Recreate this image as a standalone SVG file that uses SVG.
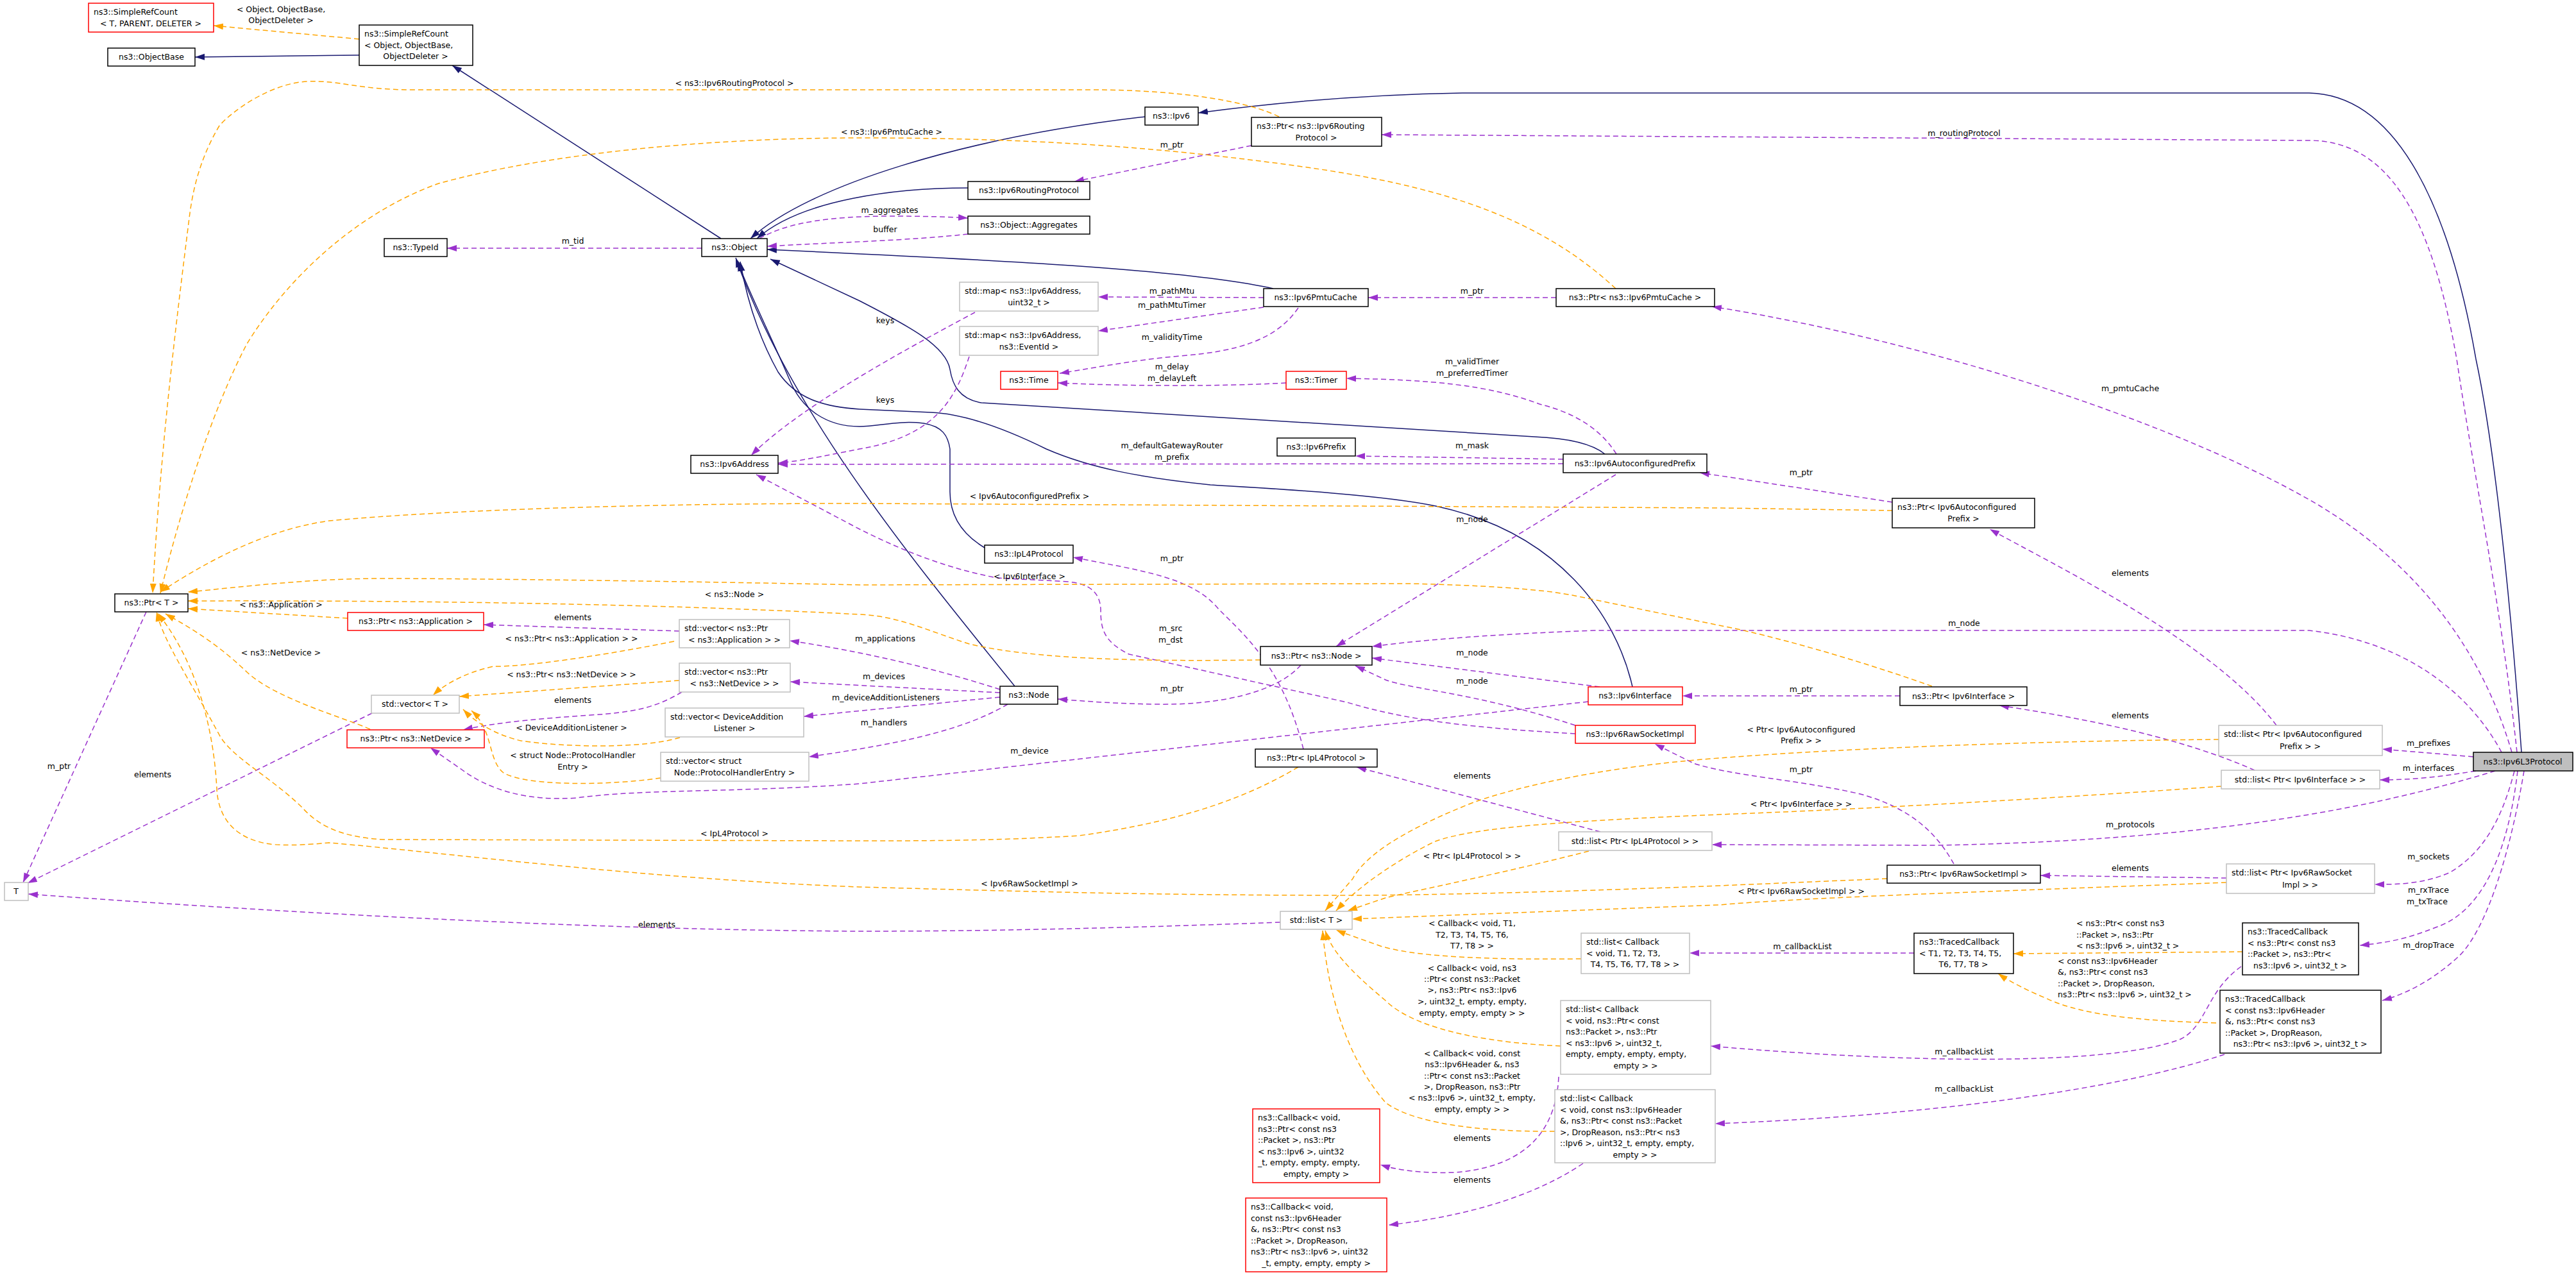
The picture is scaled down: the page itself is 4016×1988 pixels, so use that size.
<svg xmlns="http://www.w3.org/2000/svg" width="4016" height="1988" viewBox="0 0 4016 1988">
<style>
text{font-family:"DejaVu Sans","Liberation Sans",sans-serif;font-size:12.5px;fill:#000}
.m{text-anchor:middle}
.n rect{fill:#fff;stroke:#000;stroke-width:1.5}
.n.r rect{stroke:#ff0000}
.n.g rect{stroke:#bfbfbf}
.n.c rect{fill:#bfbfbf;stroke:#000}
.e path{fill:none;stroke-width:1.5}
.e .i{stroke:#191970;marker-end:url(#ai)}
.e .u{stroke:#9a32cd;stroke-dasharray:8,5;marker-end:url(#au)}
.e .t{stroke:#ffa500;stroke-dasharray:8,5;marker-end:url(#at)}
</style>
<defs>
<marker id="ai" markerUnits="userSpaceOnUse" markerWidth="16" markerHeight="12" refX="15" refY="5" orient="auto"><path d="M0,0 L15,5 L0,10 z" fill="#191970"/></marker>
<marker id="au" markerUnits="userSpaceOnUse" markerWidth="16" markerHeight="12" refX="15" refY="5" orient="auto"><path d="M0,0 L15,5 L0,10 z" fill="#9a32cd"/></marker>
<marker id="at" markerUnits="userSpaceOnUse" markerWidth="16" markerHeight="12" refX="15" refY="5" orient="auto"><path d="M0,0 L15,5 L0,10 z" fill="#ffa500"/></marker>
</defs>
<rect width="4016" height="1988" fill="#fff"/>
<g id="edges" class="e">
<path class="i" d="M560,86 L304,89"/>
<path class="i" d="M1124,372 L705,102"/>
<path class="i" d="M1785,182 C1500,215 1260,290 1170,372"/>
<path class="i" d="M1509,293 C1400,293 1250,310 1180,372"/>
<path class="i" d="M1985,450 C1850,420 1550,405 1196,389"/>
<path class="i" d="M2502,708 C2480,690 2440,683 2392,681 L1530,628 C1495,622 1485,600 1481,576 C1475,540 1420,510 1340,469 L1201,404"/>
<path class="i" d="M2545,1071 C2520,960 2430,830 2238,789 C2150,770 1950,760 1887,756 C1780,745 1700,730 1631,700 C1560,665 1500,645 1451,643 L1340,638 C1280,634 1240,620 1213,580 C1185,530 1165,470 1154,408"/>
<path class="i" d="M1535,854 C1495,830 1481,800 1481,767 L1481,700 C1478,680 1470,665 1440,660 C1400,655 1370,665 1340,665 C1290,665 1250,640 1230,590 C1200,520 1165,450 1150,408"/>
<path class="i" d="M1582,1070 C1420,870 1230,640 1147,402"/>
<path class="i" d="M3931,1173 C3915,950 3890,700 3860,560 C3820,330 3740,148 3600,145 L2280,145 C2100,148 1950,165 1868,176"/>
<path class="u" d="M1094,387 L697,387"/>
<path class="u" d="M1184,372 C1230,345 1300,338 1380,337 C1440,337 1480,338 1509,340"/>
<path class="u" d="M1509,365 C1420,375 1300,378 1196,384"/>
<path class="u" d="M1951,227 L1675,283"/>
<path class="u" d="M3924,1173 C3900,950 3860,760 3830,560 C3790,330 3720,219 3600,219 L2154,210"/>
<path class="u" d="M1970,464 L1712,463"/>
<path class="u" d="M1970,479 L1712,516"/>
<path class="u" d="M2024,480 C1990,530 1930,548 1840,555 C1760,562 1700,575 1652,582"/>
<path class="u" d="M2005,597 C1900,603 1750,602 1649,597"/>
<path class="u" d="M2426,464 L2133,464"/>
<path class="u" d="M3916,1173 C3880,1050 3800,900 3617,789 C3400,660 3000,530 2669,478"/>
<path class="u" d="M2520,708 C2490,660 2440,640 2400,630 C2320,600 2230,592 2099,590"/>
<path class="u" d="M2437,716 L2113,711"/>
<path class="u" d="M2437,723 L1213,724"/>
<path class="u" d="M1520,487 C1440,530 1250,630 1171,710"/>
<path class="u" d="M1511,556 C1490,620 1460,680 1340,700 C1280,712 1240,720 1213,722"/>
<path class="u" d="M2950,783 L2650,737"/>
<path class="u" d="M2519,740 L2083,1008"/>
<path class="u" d="M2456,1144 C2300,1135 2195,1124 2100,1095 L1760,1020 C1720,1000 1716,980 1716,950 C1715,925 1700,910 1665,907 C1620,904 1580,903 1554,901 C1470,885 1400,855 1340,825 L1179,740"/>
<path class="u" d="M2032,1168 C2000,1040 1940,990 1900,950 C1860,900 1780,890 1673,869"/>
<path class="u" d="M2028,1037 C1990,1080 1900,1100 1800,1098 C1740,1097 1700,1094 1649,1090"/>
<path class="u" d="M3900,1173 C3850,1080 3750,1000 3600,983 L2485,983 C2300,990 2200,1000 2139,1008"/>
<path class="u" d="M2494,1071 L2139,1026"/>
<path class="u" d="M2456,1131 C2300,1080 2200,1075 2160,1060 L2113,1038"/>
<path class="u" d="M2962,1085 L2623,1085"/>
<path class="u" d="M2476,1094 L1340,1222 C1150,1236 1000,1230 900,1244 C820,1250 760,1230 720,1200 L671,1166"/>
<path class="u" d="M1559,1075 C1450,1040 1340,1015 1231,999"/>
<path class="u" d="M1559,1080 L1232,1063"/>
<path class="u" d="M1559,1087 L1253,1117"/>
<path class="u" d="M1571,1098 C1500,1140 1400,1160 1261,1180"/>
<path class="u" d="M1059,984 L754,974"/>
<path class="u" d="M1063,1079 C1020,1105 983,1111 920,1115 C850,1120 780,1125 722,1138"/>
<path class="u" d="M580,1112 L43,1377"/>
<path class="u" d="M228,954 L36,1376"/>
<path class="u" d="M2495,1297 L2115,1196"/>
<path class="u" d="M3890,1202 C3700,1260 3450,1310 3021,1318 L2669,1317"/>
<path class="u" d="M3549,1131 C3450,1000 3200,880 3102,825"/>
<path class="u" d="M3515,1201 C3400,1150 3250,1120 3117,1100"/>
<path class="u" d="M3471,1369 L3181,1365"/>
<path class="u" d="M3046,1347 C3020,1300 2980,1260 2900,1238 C2800,1215 2700,1210 2640,1190 L2580,1160"/>
<path class="u" d="M3856,1180 L3714,1168"/>
<path class="u" d="M3860,1202 C3800,1212 3760,1216 3710,1216"/>
<path class="u" d="M3920,1202 C3900,1280 3870,1330 3820,1360 C3780,1378 3740,1379 3702,1379"/>
<path class="u" d="M3925,1202 C3910,1330 3870,1420 3800,1445 C3750,1465 3720,1470 3679,1474"/>
<path class="u" d="M3935,1202 C3910,1350 3870,1460 3830,1494 C3790,1530 3750,1550 3714,1560"/>
<path class="u" d="M2984,1486 L2634,1486"/>
<path class="u" d="M3494,1507 C3440,1545 3440,1600 3400,1620 C3300,1660 3000,1660 2667,1631"/>
<path class="u" d="M3468,1644 C3300,1700 3000,1740 2674,1752"/>
<path class="u" d="M2430,1679 C2425,1780 2360,1820 2270,1828 C2220,1830 2180,1825 2152,1816"/>
<path class="u" d="M2468,1814 C2400,1860 2300,1895 2165,1910"/>
<path class="u" d="M1996,1438 C1700,1449 1500,1452 1340,1452 C900,1450 400,1420 44,1394"/>
<path class="t" d="M560,61 L333,40"/>
<path class="t" d="M1994,182 C1950,160 1850,140 1700,140 L641,140 C560,140 530,125 479,127 C420,130 360,175 342,196 C310,250 300,300 295,340 C275,500 250,700 238,925"/>
<path class="t" d="M2519,450 C2400,340 2250,290 2024,259 C1800,228 1600,215 1340,215 C1100,215 850,240 684,286 C560,330 450,430 385,536 C330,640 280,800 250,925"/>
<path class="t" d="M2950,796 L2680,792 L1340,785 C1000,785 700,795 513,812 C420,825 330,870 250,923"/>
<path class="t" d="M1965,1029 C1800,1031 1620,1030 1511,1004 C1450,985 1400,960 1340,958 C1000,940 600,936 293,937"/>
<path class="t" d="M3012,1070 C2900,1030 2760,990 2680,975 L2451,928 C2400,918 2300,912 2195,910 L1340,912 C1000,905 700,902 598,902 C480,902 380,915 293,923"/>
<path class="t" d="M542,964 L293,949"/>
<path class="t" d="M577,1137 C540,1120 430,1090 385,1048 C330,995 280,970 258,957"/>
<path class="t" d="M2024,1196 C1950,1240 1850,1280 1682,1303 C1550,1311 1450,1311 1340,1311 L598,1309 C520,1305 490,1280 470,1258 C420,1210 360,1180 342,1146 C290,1050 255,1000 244,954"/>
<path class="t" d="M2942,1370 L2680,1381 C2400,1392 2200,1396 2109,1396 C1800,1396 1600,1390 1340,1383 C1000,1370 700,1330 513,1314 C450,1320 420,1318 402,1312 C360,1300 340,1270 338,1230 C335,1170 320,1050 246,956"/>
<path class="t" d="M1051,1000 C900,1030 800,1040 769,1039 C720,1050 690,1070 675,1084"/>
<path class="t" d="M1059,1061 L716,1086"/>
<path class="t" d="M1060,1150 C1000,1168 880,1165 812,1155 C770,1145 740,1125 722,1106"/>
<path class="t" d="M1030,1213 C950,1225 820,1226 785,1205 C760,1185 770,1140 735,1108"/>
<path class="t" d="M2477,1327 C2350,1360 2200,1390 2160,1400 L2101,1420"/>
<path class="t" d="M3459,1153 C3200,1155 2900,1165 2680,1182 C2500,1195 2366,1227 2300,1250 C2200,1289 2130,1330 2109,1370 L2066,1420"/>
<path class="t" d="M3463,1226 C3200,1245 2900,1262 2680,1270 C2450,1280 2300,1289 2237,1312 C2180,1340 2120,1380 2083,1420"/>
<path class="t" d="M3471,1376 C3100,1390 2800,1400 2680,1411 L2108,1433"/>
<path class="t" d="M2465,1495 C2300,1497 2200,1490 2152,1475 C2110,1460 2095,1455 2083,1450"/>
<path class="t" d="M2433,1631 C2300,1625 2200,1600 2160,1560 C2100,1510 2075,1480 2066,1451"/>
<path class="t" d="M2424,1764 C2300,1765 2200,1750 2160,1719 C2100,1650 2070,1550 2062,1451"/>
<path class="t" d="M3496,1484 L3139,1487"/>
<path class="t" d="M3455,1595 C3350,1592 3250,1585 3191,1557 C3150,1540 3125,1525 3115,1518"/>
</g>
<g id="edge-labels" class="m">
<text x="438" y="19">&lt; Object, ObjectBase,</text><text x="438" y="36">ObjectDeleter &gt;</text>
<text x="1145" y="134">&lt; ns3::Ipv6RoutingProtocol &gt;</text>
<text x="1390" y="210">&lt; ns3::Ipv6PmtuCache &gt;</text>
<text x="893" y="380">m_tid</text>
<text x="1827" y="230">m_ptr</text>
<text x="1387" y="332">m_aggregates</text>
<text x="1380" y="362">buffer</text>
<text x="3062" y="212">m_routingProtocol</text>
<text x="1827" y="458">m_pathMtu</text>
<text x="2295" y="458">m_ptr</text>
<text x="1827" y="480">m_pathMtuTimer</text>
<text x="1380" y="504">keys</text>
<text x="1827" y="530">m_validityTime</text>
<text x="2295" y="568">m_validTimer</text><text x="2295" y="586">m_preferredTimer</text>
<text x="1827" y="576">m_delay</text><text x="1827" y="594">m_delayLeft</text>
<text x="3321" y="610">m_pmtuCache</text>
<text x="1380" y="628">keys</text>
<text x="1827" y="699">m_defaultGatewayRouter</text><text x="1827" y="717">m_prefix</text>
<text x="2295" y="699">m_mask</text>
<text x="2808" y="741">m_ptr</text>
<text x="1605" y="778">&lt; Ipv6AutoconfiguredPrefix &gt;</text>
<text x="2295" y="814">m_node</text>
<text x="1827" y="875">m_ptr</text>
<text x="3321" y="898">elements</text>
<text x="1605" y="903">&lt; Ipv6Interface &gt;</text>
<text x="1145" y="931">&lt; ns3::Node &gt;</text>
<text x="438" y="947">&lt; ns3::Application &gt;</text>
<text x="893" y="967">elements</text>
<text x="3062" y="976">m_node</text>
<text x="1825" y="984">m_src</text><text x="1825" y="1002">m_dst</text>
<text x="1380" y="1000">m_applications</text>
<text x="891" y="1000">&lt; ns3::Ptr&lt; ns3::Application &gt; &gt;</text>
<text x="438" y="1022">&lt; ns3::NetDevice &gt;</text>
<text x="2295" y="1022">m_node</text>
<text x="891" y="1056">&lt; ns3::Ptr&lt; ns3::NetDevice &gt; &gt;</text>
<text x="1378" y="1059">m_devices</text>
<text x="2295" y="1066">m_node</text>
<text x="1827" y="1078">m_ptr</text>
<text x="2808" y="1079">m_ptr</text>
<text x="1381" y="1092">m_deviceAdditionListeners</text>
<text x="893" y="1096">elements</text>
<text x="3321" y="1120">elements</text>
<text x="1378" y="1131">m_handlers</text>
<text x="891" y="1139">&lt; DeviceAdditionListener &gt;</text>
<text x="2808" y="1142">&lt; Ptr&lt; Ipv6Autoconfigured</text><text x="2808" y="1159">Prefix &gt; &gt;</text>
<text x="3786" y="1163">m_prefixes</text>
<text x="1605" y="1175">m_device</text>
<text x="893" y="1182">&lt; struct Node::ProtocolHandler</text><text x="893" y="1200">Entry &gt;</text>
<text x="92" y="1199">m_ptr</text>
<text x="3786" y="1202">m_interfaces</text>
<text x="2808" y="1204">m_ptr</text>
<text x="238" y="1212">elements</text>
<text x="2295" y="1214">elements</text>
<text x="2808" y="1258">&lt; Ptr&lt; Ipv6Interface &gt; &gt;</text>
<text x="3321" y="1290">m_protocols</text>
<text x="1145" y="1304">&lt; IpL4Protocol &gt;</text>
<text x="2295" y="1339">&lt; Ptr&lt; IpL4Protocol &gt; &gt;</text>
<text x="3786" y="1340">m_sockets</text>
<text x="3321" y="1358">elements</text>
<text x="1605" y="1382">&lt; Ipv6RawSocketImpl &gt;</text>
<text x="2808" y="1394">&lt; Ptr&lt; Ipv6RawSocketImpl &gt; &gt;</text>
<text x="3786" y="1392">m_rxTrace</text><text x="3784" y="1410">m_txTrace</text>
<text x="1024" y="1446">elements</text>
<text x="2295" y="1444">&lt; Callback&lt; void, T1,</text><text x="2295" y="1462">T2, T3, T4, T5, T6,</text><text x="2295" y="1479">T7, T8 &gt; &gt;</text>
<text x="2810" y="1480">m_callbackList</text>
<text x="3786" y="1478">m_dropTrace</text>
<text x="2295" y="1514">&lt; Callback&lt; void, ns3</text><text x="2295" y="1531">::Ptr&lt; const ns3::Packet</text><text x="2295" y="1548">&gt;, ns3::Ptr&lt; ns3::Ipv6</text><text x="2295" y="1566">&gt;, uint32_t, empty, empty,</text><text x="2295" y="1584">empty, empty, empty &gt; &gt;</text>
<text x="2295" y="1647">&lt; Callback&lt; void, const</text><text x="2295" y="1664">ns3::Ipv6Header &amp;, ns3</text><text x="2295" y="1682">::Ptr&lt; const ns3::Packet</text><text x="2295" y="1699">&gt;, DropReason, ns3::Ptr</text><text x="2295" y="1716">&lt; ns3::Ipv6 &gt;, uint32_t, empty,</text><text x="2295" y="1734">empty, empty &gt; &gt;</text>
<text x="3062" y="1644">m_callbackList</text>
<text x="3062" y="1702">m_callbackList</text>
<text x="2295" y="1779">elements</text>
<text x="2295" y="1844">elements</text>
</g>
<g id="edge-labels-left">
<text x="3237" y="1444">&lt; ns3::Ptr&lt; const ns3</text><text x="3237" y="1462">::Packet &gt;, ns3::Ptr</text><text x="3237" y="1479">&lt; ns3::Ipv6 &gt;, uint32_t &gt;</text>
<text x="3208" y="1503">&lt; const ns3::Ipv6Header</text><text x="3208" y="1520">&amp;, ns3::Ptr&lt; const ns3</text><text x="3208" y="1538">::Packet &gt;, DropReason,</text><text x="3208" y="1555">ns3::Ptr&lt; ns3::Ipv6 &gt;, uint32_t &gt;</text>
</g>
<g id="n-srcT" class="n r"><rect x="138" y="5" width="195" height="45"/><text x="146" y="23">ns3::SimpleRefCount</text><text class="m" x="235" y="41">&lt; T, PARENT, DELETER &gt;</text></g>
<g id="n-objbase" class="n"><rect x="168" y="75" width="136" height="28"/><text class="m" x="236" y="93">ns3::ObjectBase</text></g>
<g id="n-srcO" class="n"><rect x="560" y="39" width="177" height="63"/><text x="568" y="57">ns3::SimpleRefCount</text><text x="568" y="75">&lt; Object, ObjectBase,</text><text class="m" x="648" y="92">ObjectDeleter &gt;</text></g>
<g id="n-typeid" class="n"><rect x="599" y="372" width="98" height="28"/><text class="m" x="648" y="390">ns3::TypeId</text></g>
<g id="n-object" class="n"><rect x="1094" y="372" width="102" height="28"/><text class="m" x="1145" y="390">ns3::Object</text></g>
<g id="n-ipv6" class="n"><rect x="1785" y="167" width="83" height="28"/><text class="m" x="1826" y="185">ns3::Ipv6</text></g>
<g id="n-ptrRP" class="n"><rect x="1951" y="183" width="203" height="45"/><text x="1959" y="201">ns3::Ptr&lt; ns3::Ipv6Routing</text><text class="m" x="2052" y="219">Protocol &gt;</text></g>
<g id="n-ipv6RP" class="n"><rect x="1509" y="283" width="190" height="28"/><text class="m" x="1604" y="301">ns3::Ipv6RoutingProtocol</text></g>
<g id="n-aggr" class="n"><rect x="1509" y="337" width="190" height="28"/><text class="m" x="1604" y="355">ns3::Object::Aggregates</text></g>
<g id="n-map1" class="n g"><rect x="1496" y="440" width="216" height="45"/><text x="1504" y="458">std::map&lt; ns3::Ipv6Address,</text><text class="m" x="1604" y="476">uint32_t &gt;</text></g>
<g id="n-map2" class="n g"><rect x="1496" y="509" width="216" height="45"/><text x="1504" y="527">std::map&lt; ns3::Ipv6Address,</text><text class="m" x="1604" y="545">ns3::EventId &gt;</text></g>
<g id="n-pmtu" class="n"><rect x="1970" y="450" width="163" height="28"/><text class="m" x="2051" y="468">ns3::Ipv6PmtuCache</text></g>
<g id="n-ptrPmtu" class="n"><rect x="2426" y="450" width="247" height="28"/><text class="m" x="2549" y="468">ns3::Ptr&lt; ns3::Ipv6PmtuCache &gt;</text></g>
<g id="n-time" class="n r"><rect x="1560" y="579" width="89" height="28"/><text class="m" x="1604" y="597">ns3::Time</text></g>
<g id="n-timer" class="n r"><rect x="2005" y="579" width="94" height="28"/><text class="m" x="2052" y="597">ns3::Timer</text></g>
<g id="n-prefix" class="n"><rect x="1991" y="683" width="122" height="28"/><text class="m" x="2052" y="701">ns3::Ipv6Prefix</text></g>
<g id="n-addr" class="n"><rect x="1077" y="710" width="136" height="28"/><text class="m" x="1145" y="728">ns3::Ipv6Address</text></g>
<g id="n-autoP" class="n"><rect x="2437" y="708" width="224" height="29"/><text class="m" x="2549" y="727">ns3::Ipv6AutoconfiguredPrefix</text></g>
<g id="n-ptrAutoP" class="n"><rect x="2950" y="777" width="222" height="46"/><text x="2958" y="795">ns3::Ptr&lt; Ipv6Autoconfigured</text><text class="m" x="3061" y="813">Prefix &gt;</text></g>
<g id="n-ipl4" class="n"><rect x="1535" y="850" width="138" height="28"/><text class="m" x="1604" y="868">ns3::IpL4Protocol</text></g>
<g id="n-ptrT" class="n"><rect x="179" y="926" width="114" height="28"/><text class="m" x="236" y="944">ns3::Ptr&lt; T &gt;</text></g>
<g id="n-ptrApp" class="n r"><rect x="542" y="955" width="212" height="28"/><text class="m" x="648" y="973">ns3::Ptr&lt; ns3::Application &gt;</text></g>
<g id="n-vecApp" class="n g"><rect x="1059" y="966" width="172" height="44"/><text x="1067" y="984">std::vector&lt; ns3::Ptr</text><text class="m" x="1145" y="1002">&lt; ns3::Application &gt; &gt;</text></g>
<g id="n-ptrNode" class="n"><rect x="1965" y="1008" width="174" height="29"/><text class="m" x="2052" y="1027">ns3::Ptr&lt; ns3::Node &gt;</text></g>
<g id="n-vecND" class="n g"><rect x="1059" y="1034" width="173" height="45"/><text x="1067" y="1052">std::vector&lt; ns3::Ptr</text><text class="m" x="1145" y="1070">&lt; ns3::NetDevice &gt; &gt;</text></g>
<g id="n-node" class="n"><rect x="1559" y="1070" width="90" height="28"/><text class="m" x="1604" y="1088">ns3::Node</text></g>
<g id="n-ipv6If" class="n r"><rect x="2476" y="1071" width="147" height="28"/><text class="m" x="2549" y="1089">ns3::Ipv6Interface</text></g>
<g id="n-ptrIf" class="n"><rect x="2962" y="1071" width="198" height="29"/><text class="m" x="3061" y="1090">ns3::Ptr&lt; Ipv6Interface &gt;</text></g>
<g id="n-vecT" class="n g"><rect x="579" y="1084" width="137" height="28"/><text class="m" x="647" y="1102">std::vector&lt; T &gt;</text></g>
<g id="n-vecDAL" class="n g"><rect x="1037" y="1104" width="216" height="45"/><text x="1045" y="1122">std::vector&lt; DeviceAddition</text><text class="m" x="1145" y="1140">Listener &gt;</text></g>
<g id="n-raw" class="n r"><rect x="2456" y="1131" width="187" height="28"/><text class="m" x="2549" y="1149">ns3::Ipv6RawSocketImpl</text></g>
<g id="n-listAP" class="n g"><rect x="3459" y="1131" width="255" height="47"/><text x="3467" y="1149">std::list&lt; Ptr&lt; Ipv6Autoconfigured</text><text class="m" x="3586" y="1168">Prefix &gt; &gt;</text></g>
<g id="n-ptrND" class="n r"><rect x="541" y="1138" width="214" height="28"/><text class="m" x="648" y="1156">ns3::Ptr&lt; ns3::NetDevice &gt;</text></g>
<g id="n-ptrIpl4" class="n"><rect x="1957" y="1168" width="190" height="28"/><text class="m" x="2052" y="1186">ns3::Ptr&lt; IpL4Protocol &gt;</text></g>
<g id="n-vecPHE" class="n g"><rect x="1030" y="1173" width="231" height="45"/><text x="1038" y="1191">std::vector&lt; struct</text><text class="m" x="1145" y="1209">Node::ProtocolHandlerEntry &gt;</text></g>
<g id="n-l3" class="n c"><rect x="3856" y="1173" width="155" height="29"/><text class="m" x="3933" y="1192">ns3::Ipv6L3Protocol</text></g>
<g id="n-listIf" class="n g"><rect x="3463" y="1201" width="247" height="29"/><text class="m" x="3586" y="1220">std::list&lt; Ptr&lt; Ipv6Interface &gt; &gt;</text></g>
<g id="n-listIpl4" class="n g"><rect x="2430" y="1297" width="239" height="29"/><text class="m" x="2549" y="1316">std::list&lt; Ptr&lt; IpL4Protocol &gt; &gt;</text></g>
<g id="n-ptrRaw" class="n"><rect x="2942" y="1349" width="239" height="28"/><text class="m" x="3061" y="1367">ns3::Ptr&lt; Ipv6RawSocketImpl &gt;</text></g>
<g id="n-listRaw" class="n g"><rect x="3471" y="1347" width="231" height="46"/><text x="3479" y="1365">std::list&lt; Ptr&lt; Ipv6RawSocket</text><text class="m" x="3586" y="1384">Impl &gt; &gt;</text></g>
<g id="n-T" class="n g"><rect x="7" y="1376" width="37" height="28"/><text class="m" x="25" y="1394">T</text></g>
<g id="n-listT" class="n g"><rect x="1996" y="1421" width="112" height="28"/><text class="m" x="2052" y="1439">std::list&lt; T &gt;</text></g>
<g id="n-listCbT" class="n g"><rect x="2465" y="1455" width="169" height="63"/><text x="2473" y="1473">std::list&lt; Callback</text><text x="2473" y="1491">&lt; void, T1, T2, T3,</text><text class="m" x="2549" y="1508">T4, T5, T6, T7, T8 &gt; &gt;</text></g>
<g id="n-tcT" class="n"><rect x="2984" y="1455" width="155" height="63"/><text x="2992" y="1473">ns3::TracedCallback</text><text x="2992" y="1491">&lt; T1, T2, T3, T4, T5,</text><text class="m" x="3061" y="1508">T6, T7, T8 &gt;</text></g>
<g id="n-tcPtr" class="n"><rect x="3496" y="1439" width="181" height="81"/><text x="3504" y="1457">ns3::TracedCallback</text><text x="3504" y="1475">&lt; ns3::Ptr&lt; const ns3</text><text x="3504" y="1492">::Packet &gt;, ns3::Ptr&lt;</text><text class="m" x="3586" y="1510">ns3::Ipv6 &gt;, uint32_t &gt;</text></g>
<g id="n-tcHdr" class="n"><rect x="3461" y="1544" width="251" height="98"/><text x="3469" y="1562">ns3::TracedCallback</text><text x="3469" y="1580">&lt; const ns3::Ipv6Header</text><text x="3469" y="1597">&amp;, ns3::Ptr&lt; const ns3</text><text x="3469" y="1615">::Packet &gt;, DropReason,</text><text class="m" x="3586" y="1632">ns3::Ptr&lt; ns3::Ipv6 &gt;, uint32_t &gt;</text></g>
<g id="n-listCbPtr" class="n g"><rect x="2433" y="1560" width="234" height="115"/><text x="2441" y="1578">std::list&lt; Callback</text><text x="2441" y="1596">&lt; void, ns3::Ptr&lt; const</text><text x="2441" y="1613">ns3::Packet &gt;, ns3::Ptr</text><text x="2441" y="1631">&lt; ns3::Ipv6 &gt;, uint32_t,</text><text x="2441" y="1648">empty, empty, empty, empty,</text><text class="m" x="2550" y="1666">empty &gt; &gt;</text></g>
<g id="n-listCbHdr" class="n g"><rect x="2424" y="1699" width="250" height="114"/><text x="2432" y="1717">std::list&lt; Callback</text><text x="2432" y="1735">&lt; void, const ns3::Ipv6Header</text><text x="2432" y="1752">&amp;, ns3::Ptr&lt; const ns3::Packet</text><text x="2432" y="1770">&gt;, DropReason, ns3::Ptr&lt; ns3</text><text x="2432" y="1787">::Ipv6 &gt;, uint32_t, empty, empty,</text><text class="m" x="2549" y="1805">empty &gt; &gt;</text></g>
<g id="n-cb1" class="n r"><rect x="1953" y="1729" width="198" height="115"/><text x="1961" y="1747">ns3::Callback&lt; void,</text><text x="1961" y="1765">ns3::Ptr&lt; const ns3</text><text x="1961" y="1782">::Packet &gt;, ns3::Ptr</text><text x="1961" y="1800">&lt; ns3::Ipv6 &gt;, uint32</text><text x="1961" y="1817">_t, empty, empty, empty,</text><text class="m" x="2052" y="1835">empty, empty &gt;</text></g>
<g id="n-cb2" class="n r"><rect x="1942" y="1868" width="220" height="115"/><text x="1950" y="1886">ns3::Callback&lt; void,</text><text x="1950" y="1904">const ns3::Ipv6Header</text><text x="1950" y="1921">&amp;, ns3::Ptr&lt; const ns3</text><text x="1950" y="1939">::Packet &gt;, DropReason,</text><text x="1950" y="1956">ns3::Ptr&lt; ns3::Ipv6 &gt;, uint32</text><text class="m" x="2052" y="1974">_t, empty, empty, empty &gt;</text></g>
</svg>
